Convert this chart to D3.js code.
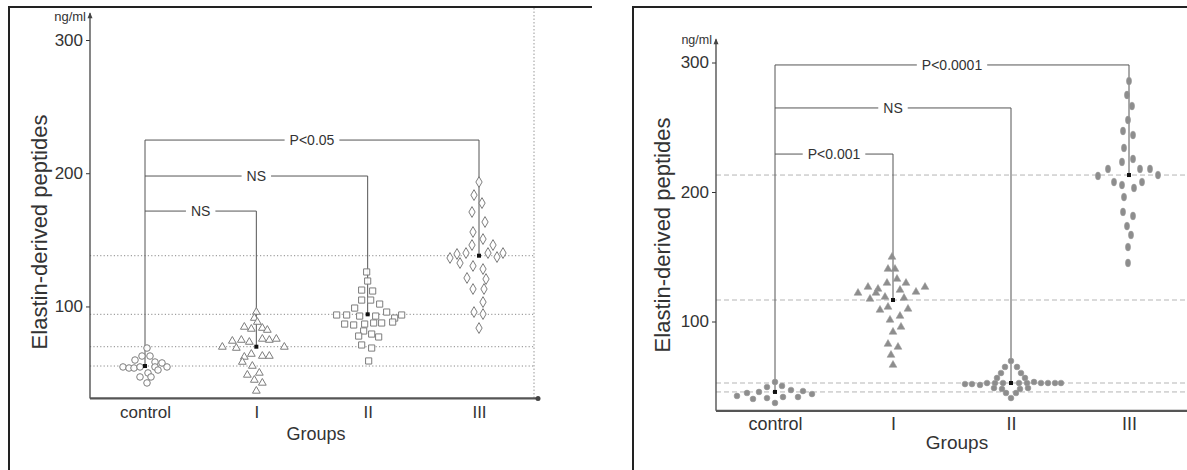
<!DOCTYPE html>
<html><head><meta charset="utf-8">
<script src="https://cdn.jsdelivr.net/npm/d3@7"></script>
<style>body{margin:0;background:#fff}svg{display:block}text{font-family:"Liberation Sans",Arial,sans-serif}</style>
</head><body><svg id="c" width="1187" height="470"></svg>
<script>
// ---------- data ----------
const categories = ["control", "I", "II", "III"];
const yTicks = [100, 200, 300];
const unitLabel = "ng/ml";
const yTitle = "Elastin-derived peptides";
const xTitle = "Groups";

// each point: [value (ng/ml), swarm column]
const leftControl = [[68.8,0.4],[62.8,-0.6],[62.8,1.0],[59.8,-2.0],[58.3,2.0],[54.6,-4.4],[53.8,-3.2],[53.8,-2.2],[54.6,-1.0],[54.6,2.0],[57.6,3.4],[54.6,4.4],[52.3,2.6],[50.1,0.6],[47.1,-1.0],[47.1,1.2],[42.6,0.4]];
const leftI = [[95.8,0],[91.3,-0.4],[88.3,0.2],[84.6,-2.4],[83.1,-1],[83.8,1.2],[82.3,2.2],[74.1,-4.8],[74.8,-3],[73.3,-1.4],[75.6,1.2],[74.8,2.6],[75.6,4],[69.6,-6.8],[68.8,-4],[69.6,5.6],[62.1,-2.4],[64.3,-1],[62.8,1.2],[62.8,2.6],[58.3,-2.8],[55.3,-0.8],[48.6,-1.8],[50.1,0.6],[44.8,-0.4],[42.6,1.2],[36.6,0]];
const leftII = [[125.9,-0.2],[119.1,0],[112.3,-1.2],[111.6,1.0],[104.8,-1.2],[104.8,0.6],[101.8,2.4],[98.8,-2.6],[93.6,-6.2],[93.6,-4.2],[92.8,-1.6],[92.8,1.6],[95.8,3.8],[91.3,5.4],[93.6,6.8],[86.8,-4.6],[86.1,-2.8],[86.8,-0.6],[87.6,1.2],[87.6,2.8],[88.3,5.0],[81.6,-0.8],[79.3,0.8],[77.1,2.2],[77.8,-1.8],[71.1,-1.2],[68.8,0.8],[59.1,0.2]];
const leftIII = [[193.4,0],[183.6,-1.0],[177.6,0.6],[170.9,-1.4],[163.4,1.2],[155.9,-1.2],[150.6,0.8],[146.1,-1.4],[146.1,2.8],[136.4,-5.8],[139.4,-4.4],[140.1,-2.6],[140.1,1.8],[137.1,3.6],[140.1,4.8],[132.6,-3.8],[130.4,-1.2],[128.1,0.8],[121.4,-2.4],[120.6,1.4],[113.1,-1.2],[113.1,1.0],[103.3,0.8],[95.8,-1.0],[94.3,0.8],[83.8,0]];
const leftMeans = [55.3, 69.8, 94.1, 138.1];
const leftBracketLabels = ["NS", "NS", "P<0.05"];
const leftBracketLevels = [171.6, 197.9, 224.9];

const rightControl = [[53.3,0],[49.4,-1.6],[50.2,1.4],[45.6,-3.2],[47.1,3.2],[44.8,-5.6],[42.5,-7.6],[46.3,5.6],[44.0,7.4],[40.2,-4.4],[40.9,-1.6],[41.7,1.6],[41.7,4.6],[37.1,0]];
const rightI = [[149.8,-0.2],[140.5,-1.0],[140.5,0.4],[129.7,-1.2],[132.8,0.8],[129.7,2.6],[125.1,-3.0],[124.3,1.4],[122.8,4.6],[126.6,6.4],[122.0,-7.0],[126.6,-5.0],[122.0,-3.4],[117.4,-4.6],[118.9,-1.6],[118.1,2.2],[108.9,-2.6],[111.2,-1.0],[109.7,3.0],[101.2,-0.6],[104.2,1.4],[95.8,1.6],[91.9,0],[82.6,-1.0],[80.3,1.0],[74.1,-0.4],[66.4,0]];
const rightII = [[69.5,0],[64.9,-1.2],[64.9,1.2],[60.2,-2.0],[60.2,2.0],[56.4,-2.8],[56.4,2.8],[51.7,-9.2],[51.7,-7.8],[51.0,-6.2],[52.5,-4.8],[52.5,-3.2],[52.5,-1.6],[52.5,1.6],[52.5,3.2],[53.3,4.6],[52.5,6.0],[52.5,7.4],[52.5,8.8],[52.5,10.0],[48.6,-3.4],[47.9,-1.8],[47.9,1.8],[48.6,3.4],[44.8,-1.0],[44.8,1.0],[40.9,0]];
const rightIII = [[285.7,0],[274.9,-0.4],[266.4,0.6],[255.6,-0.2],[247.1,-1.2],[244.0,0.8],[234.0,-1.0],[223.2,-1.4],[225.5,0.8],[217.8,-4.2],[212.4,-6.2],[217.8,2.2],[217.8,4.2],[213.1,5.8],[207.7,-3.0],[205.4,-1.4],[207.7,2.6],[203.1,1.0],[196.1,-1.0],[184.6,-1.2],[181.5,0.8],[173.7,-0.4],[166.8,0.4],[157.5,-0.2],[145.2,-0.2]];
const rightMeans = [45.6, 116.6, 52.5, 213.1];
const rightBracketLabels = ["P<0.001", "NS", "P<0.0001"];
const rightBracketLevels = [229.3, 264.9, 298.1];

// ---------- layout ----------
const svg = d3.select("#c");
const panels = [
  {
    groups: [leftControl, leftI, leftII, leftIII], means: leftMeans,
    brLabels: leftBracketLabels, brLevels: leftBracketLevels,
    frameX: 9, frameX2: 592, yRange: [439.7, 40], xRange: [145, 479],
    axisX: 90, axisEnd: 538, axisTop: 320, axisBase: 31, gridEnd: 534, vline: 534,
    shapes: [d3.symbolCircle, d3.symbolTriangle, d3.symbolSquare, d3.symbolDiamond],
    sizes: [34, 26, 38, 34], filled: false, grid: "1.2,2.2", gridColor: "#8a8a8a",
    titleX: 47, titleY: 232, xTitleX: 316, xTitleY: 440, xTitleSize: 18, tickPad: 8,
    unitX: 86, unitY: 21, unitSize: 13, catFont: 17, tickFont: 17, brFont: 14
  },
  {
    groups: [rightControl, rightI, rightII, rightIII], means: rightMeans,
    brLabels: rightBracketLabels, brLevels: rightBracketLevels,
    frameX: 633, frameX2: null, yRange: [451, 62.5], xRange: [775, 1129],
    axisX: 716, axisEnd: 1187, axisTop: 318, axisBase: 31, gridEnd: 1187, vline: null,
    shapes: [d3.symbolCircle, d3.symbolTriangle, d3.symbolCircle, d3.symbolCircle],
    sizes: [26, 26, 26, 28], filled: true, grid: "5,3", gridColor: "#b5b5b5",
    titleX: 670, titleY: 235, xTitleX: 957, xTitleY: 449, xTitleSize: 19, tickPad: 6,
    unitX: 712, unitY: 44, unitSize: 12.5, catFont: 18, tickFont: 17, brFont: 14
  }
];

panels.forEach(p => {
  const g = svg.append("g");
  const y = d3.scaleLinear().domain([0, 300]).range(p.yRange);
  const x = d3.scalePoint().domain(categories).range(p.xRange).padding(0);
  const jitter = d3.scaleLinear().domain([0, 1]).range([0, 5]);
  const baseY = y(p.axisBase);

  // frame
  g.append("line").attr("x1", p.frameX).attr("x2", p.frameX2 || 1187).attr("y1", 7).attr("y2", 7)
    .attr("stroke", "#222").attr("stroke-width", 2);
  g.append("line").attr("x1", p.frameX).attr("x2", p.frameX).attr("y1", 6).attr("y2", 470)
    .attr("stroke", "#222").attr("stroke-width", 2);

  if (p.vline) {
    g.append("line").attr("x1", p.vline).attr("x2", p.vline).attr("y1", 8).attr("y2", baseY)
      .attr("stroke", "#999").attr("stroke-dasharray", "1.5,2");
  }

  // gridlines at group means
  g.selectAll(".grid").data(p.means).join("line")
    .attr("x1", p.axisX).attr("x2", p.gridEnd)
    .attr("y1", d => y(d)).attr("y2", d => y(d))
    .attr("stroke", p.gridColor).attr("stroke-width", 1).attr("stroke-dasharray", p.grid);

  // y axis
  const ya = g.append("g").attr("transform", `translate(${p.axisX},0)`)
    .call(d3.axisLeft(y).tickValues(yTicks).tickSize(4).tickPadding(3).tickSizeOuter(0));
  ya.select(".domain").remove();
  ya.selectAll("line").attr("stroke", "#333");
  ya.selectAll("text").attr("font-size", p.tickFont).attr("fill", "#333")
    .attr("font-family", "'Liberation Sans', Arial, sans-serif");
  g.append("line").attr("x1", p.axisX).attr("x2", p.axisX).attr("y1", y(p.axisTop)).attr("y2", baseY)
    .attr("stroke", "#444").attr("stroke-width", 1.3);
  g.append("path")
    .attr("d", `M${p.axisX - 2.5},${y(p.axisTop) + 5}L${p.axisX},${y(p.axisTop) - 1}L${p.axisX + 2.5},${y(p.axisTop) + 5}Z`)
    .attr("fill", "#444");
  g.append("text").attr("x", p.unitX).attr("y", p.unitY).attr("text-anchor", "end")
    .attr("font-size", p.unitSize).attr("fill", "#333").text(unitLabel);

  // x axis
  g.append("line").attr("x1", p.axisX).attr("x2", p.axisEnd).attr("y1", baseY).attr("y2", baseY)
    .attr("stroke", "#555").attr("stroke-width", 2.2);
  if (p.vline) g.append("circle").attr("cx", p.axisEnd).attr("cy", baseY).attr("r", 2.5).attr("fill", "#444");
  const xa = g.append("g").attr("transform", `translate(0,${baseY})`)
    .call(d3.axisBottom(x).tickSize(0).tickPadding(p.tickPad));
  xa.select(".domain").remove();
  xa.selectAll("text").attr("font-size", p.catFont).attr("fill", "#333")
    .attr("font-family", "'Liberation Sans', Arial, sans-serif");

  // titles
  g.append("text").attr("transform", `translate(${p.titleX},${p.titleY}) rotate(-90)`)
    .attr("text-anchor", "middle").attr("font-size", 22).attr("fill", "#333").text(yTitle);
  g.append("text").attr("x", p.xTitleX).attr("y", p.xTitleY).attr("text-anchor", "middle")
    .attr("font-size", p.xTitleSize).attr("fill", "#333").text(xTitle);

  // brackets
  const x0 = x(categories[0]);
  const topLevel = d3.max(p.brLevels);
  g.append("line").attr("x1", x0).attr("x2", x0).attr("y1", y(topLevel)).attr("y2", y(p.means[0]))
    .attr("stroke", "#555").attr("stroke-width", 1);
  p.brLevels.forEach((lv, i) => {
    const xt = x(categories[i + 1]);
    const yy = y(lv);
    const mid = (x0 + xt) / 2;
    const t = g.append("text").attr("x", mid).attr("y", yy + 5).attr("text-anchor", "middle")
      .attr("font-size", p.brFont).attr("fill", "#333").text(p.brLabels[i]);
    const w = t.node().getComputedTextLength();
    const gap = 5;
    g.append("line").attr("x1", x0).attr("x2", mid - w / 2 - gap).attr("y1", yy).attr("y2", yy)
      .attr("stroke", "#555");
    g.append("line").attr("x1", mid + w / 2 + gap).attr("x2", xt).attr("y1", yy).attr("y2", yy)
      .attr("stroke", "#555");
    g.append("line").attr("x1", xt).attr("x2", xt).attr("y1", yy).attr("y2", y(p.means[i + 1]))
      .attr("stroke", "#555");
  });

  // points
  p.groups.forEach((pts, gi) => {
    const cx = x(categories[gi]);
    const sym = d3.symbol().type(p.shapes[gi]).size(p.sizes[gi]);
    const stretch = (p.filled && gi === 3) ? "scale(0.85,1.3)" : "";
    g.selectAll(null).data(pts).join("path")
      .attr("transform", d => `translate(${cx + jitter(d[1])},${y(d[0])}) ${stretch}`)
      .attr("d", sym)
      .attr("fill", p.filled ? "#8d8d8d" : "#fff")
      .attr("fill-opacity", p.filled ? 1 : 0.9)
      .attr("stroke", p.filled ? "#9a9a9a" : "#7d7d7d")
      .attr("stroke-width", p.filled ? 0.6 : 1);
    g.append("rect").attr("x", cx - 2).attr("y", y(p.means[gi]) - 2).attr("width", 4).attr("height", 4)
      .attr("fill", "#111");
  });
});
</script></body></html>
